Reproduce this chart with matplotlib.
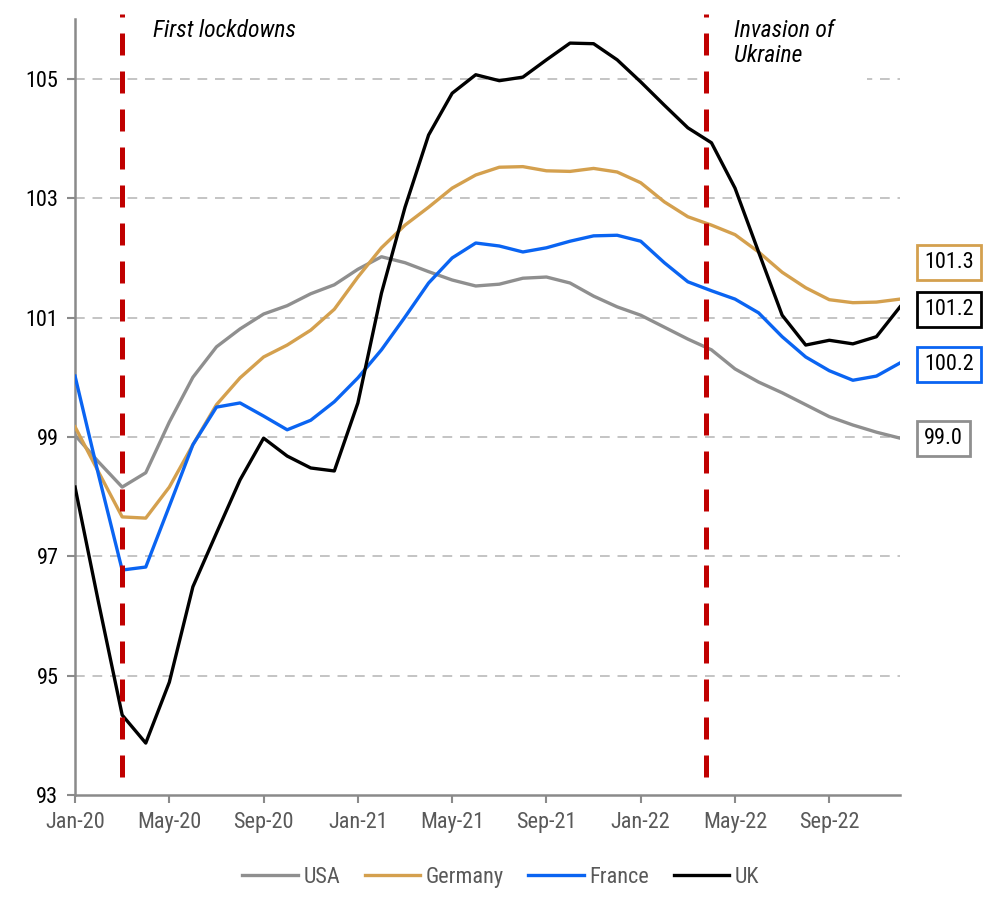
import matplotlib
matplotlib.use("Agg")
import matplotlib.pyplot as plt
import matplotlib.transforms as mtransforms

plt.rcParams['font.family'] = ['Roboto Condensed', 'Liberation Sans Narrow', 'Roboto', 'DejaVu Sans']

months = ["Jan-20", "Feb-20", "Mar-20", "Apr-20", "May-20", "Jun-20", "Jul-20", "Aug-20", "Sep-20",
          "Oct-20", "Nov-20", "Dec-20", "Jan-21", "Feb-21", "Mar-21", "Apr-21", "May-21", "Jun-21",
          "Jul-21", "Aug-21", "Sep-21", "Oct-21", "Nov-21", "Dec-21", "Jan-22", "Feb-22", "Mar-22",
          "Apr-22", "May-22", "Jun-22", "Jul-22", "Aug-22", "Sep-22", "Oct-22", "Nov-22", "Dec-22"]

usa = [99.03, 98.58, 98.16, 98.40, 99.25, 100.00, 100.51, 100.81, 101.06, 101.20, 101.40, 101.55,
       101.81, 102.02, 101.92, 101.77, 101.63, 101.53, 101.56, 101.66, 101.68, 101.58, 101.36, 101.18,
       101.04, 100.84, 100.64, 100.46, 100.14, 99.92, 99.74, 99.54, 99.34, 99.20, 99.08, 98.98]
germany = [99.17, 98.41, 97.66, 97.64, 98.16, 98.87, 99.54, 99.99, 100.34, 100.54, 100.79, 101.14,
           101.68, 102.17, 102.55, 102.85, 103.17, 103.39, 103.52, 103.53, 103.46, 103.45, 103.50, 103.44,
           103.26, 102.94, 102.69, 102.55, 102.39, 102.10, 101.76, 101.50, 101.30, 101.25, 101.26, 101.31]
france = [100.02, 98.36, 96.77, 96.82, 97.84, 98.87, 99.50, 99.57, 99.35, 99.12, 99.28, 99.59,
          99.99, 100.46, 101.01, 101.58, 102.00, 102.25, 102.20, 102.10, 102.17, 102.28, 102.37, 102.38,
          102.28, 101.92, 101.60, 101.45, 101.31, 101.08, 100.68, 100.34, 100.11, 99.95, 100.02, 100.24]
uk = [98.16, 96.22, 94.34, 93.87, 94.89, 96.49, 97.39, 98.28, 98.98, 98.68, 98.48, 98.43,
      99.57, 101.41, 102.85, 104.06, 104.76, 105.07, 104.97, 105.03, 105.32, 105.60, 105.59, 105.32,
      104.95, 104.56, 104.18, 103.93, 103.17, 102.10, 101.04, 100.54, 100.62, 100.56, 100.68, 101.18]

series = [("USA", usa, "#8f8f8f"), ("Germany", germany, "#d4a04e"),
          ("France", france, "#0a64f2"), ("UK", uk, "#000000")]

# end-of-line label boxes: (text, y position, edge colour)
end_labels = [("101.3", 101.92, "#d4a04e"), ("101.2", 101.13, "#000000"),
              ("100.2", 100.22, "#0a64f2"), ("99.0", 98.98, "#8f8f8f")]

fig = plt.figure(figsize=(9.9, 9.16), dpi=100)
ax = fig.add_axes([0.0758, 0.1321, 0.8333, 0.8469])

x = list(range(len(months)))
for name, vals, col in series:
    ax.plot(x, vals, color=col, lw=2.4, label=name, zorder=4)

ax.set_xlim(0, 35)
ax.set_ylim(93, 106)
ax.set_yticks(range(93, 106, 2))
ax.set_xticks(x[::4])
ax.set_xticklabels(months[::4])

for yv in range(95, 106, 2):
    ax.axhline(yv, color="#c4c4c4", lw=1.4, ls=(0, (5, 4)), zorder=1)

for s in ["top", "right"]:
    ax.spines[s].set_visible(False)
for s in ["left", "bottom"]:
    ax.spines[s].set_color("#8a8a8a")
    ax.spines[s].set_linewidth(1.8)
ax.tick_params(axis="both", direction="out", length=6, width=1.5, color="#8a8a8a", labelsize=16)
ax.tick_params(axis="x", labelcolor="#595959", pad=6)
ax.tick_params(axis="y", labelcolor="#000000", pad=6)

# event markers
trans = mtransforms.blended_transform_factory(ax.transData, ax.transAxes)
for xv in [2, 26.75]:
    ax.plot([xv, xv], [0.023, 1.007], transform=trans, color="#c00000", lw=3.6,
            ls=(0, (4.4, 3.2)), clip_on=False, zorder=5)
ax.text(3.3, 106.0, "First lockdowns", fontsize=17, style="italic", va="top", ha="left")
ax.text(27.95, 106.0, "Invasion of\nUkraine", fontsize=17, style="italic", va="top", ha="left",
        linespacing=1.1, zorder=3,
        bbox=dict(facecolor="white", edgecolor="none", boxstyle="square,pad=1.4"))

trans2 = mtransforms.blended_transform_factory(ax.transAxes, ax.transData)
for txt, yv, col in end_labels:
    ax.text(1.029, yv, txt, transform=trans2, fontsize=16, va="center", ha="left", clip_on=False,
            bbox=dict(facecolor="white", edgecolor=col, lw=2, boxstyle="square,pad=0.32"))

leg = fig.legend(loc="center", bbox_to_anchor=(0.506, 0.042), ncol=4, frameon=False, fontsize=16,
                 handlelength=2.5, columnspacing=1.1, handletextpad=0.25)
for t in leg.get_texts():
    t.set_color("#595959")

fig.savefig("out.png", dpi=100)
